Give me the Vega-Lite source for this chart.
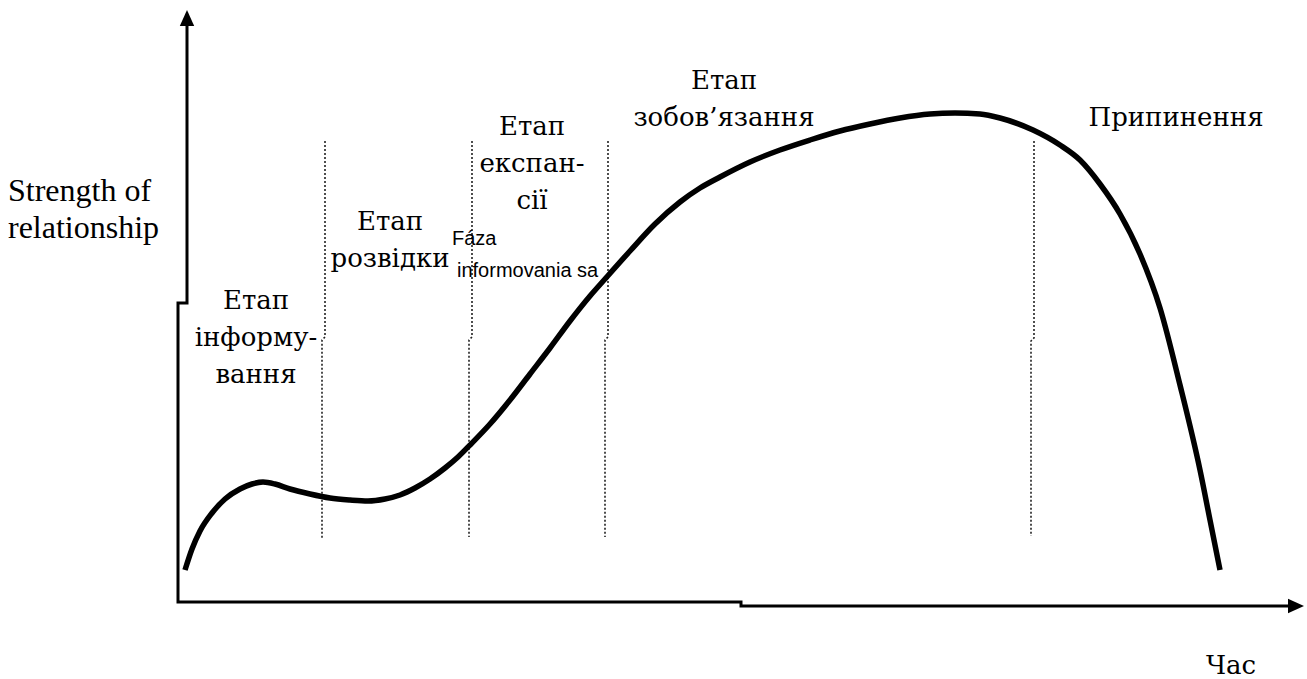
{
  "$schema": "https://vega.github.io/schema/vega-lite/v6.json",
  "width": 1307,
  "height": 679,
  "padding": 0,
  "autosize": {"type": "fit", "contains": "padding"},
  "background": "white",
  "config": {"view": {"stroke": null}},
  "datasets": {
    "axes": [
      {"seg": "a", "o": 1, "t": 187, "s": 26},
      {"seg": "a", "o": 2, "t": 187, "s": 303},
      {"seg": "a", "o": 3, "t": 178, "s": 303},
      {"seg": "a", "o": 4, "t": 178, "s": 602},
      {"seg": "a", "o": 5, "t": 741, "s": 602},
      {"seg": "a", "o": 6, "t": 741, "s": 606},
      {"seg": "a", "o": 7, "t": 1290, "s": 606}
    ],
    "arrows": [
      {"t": 187, "s": 18, "dir": "up"},
      {"t": 1296, "s": 606, "dir": "right"}
    ],
    "dividers": [
      {"seg": "d1", "o": 1, "t": 325, "s": 141},
      {"seg": "d1", "o": 2, "t": 325, "s": 337},
      {"seg": "d1", "o": 3, "t": 322, "s": 340},
      {"seg": "d1", "o": 4, "t": 322, "s": 538},
      {"seg": "d2", "o": 1, "t": 472, "s": 141},
      {"seg": "d2", "o": 2, "t": 472, "s": 337},
      {"seg": "d2", "o": 3, "t": 469, "s": 340},
      {"seg": "d2", "o": 4, "t": 469, "s": 537},
      {"seg": "d3", "o": 1, "t": 608, "s": 141},
      {"seg": "d3", "o": 2, "t": 608, "s": 337},
      {"seg": "d3", "o": 3, "t": 605, "s": 340},
      {"seg": "d3", "o": 4, "t": 605, "s": 537},
      {"seg": "d4", "o": 1, "t": 1034, "s": 141},
      {"seg": "d4", "o": 2, "t": 1034, "s": 338},
      {"seg": "d4", "o": 3, "t": 1031, "s": 341},
      {"seg": "d4", "o": 4, "t": 1031, "s": 536}
    ],
    "curve": [
      {"t": 185, "s": 570},
      {"t": 192, "s": 549},
      {"t": 200, "s": 531},
      {"t": 212, "s": 513},
      {"t": 225, "s": 499},
      {"t": 240, "s": 489},
      {"t": 252, "s": 484},
      {"t": 263, "s": 482},
      {"t": 275, "s": 484},
      {"t": 290, "s": 489},
      {"t": 310, "s": 494},
      {"t": 330, "s": 498},
      {"t": 350, "s": 500},
      {"t": 368, "s": 501},
      {"t": 385, "s": 499},
      {"t": 400, "s": 495},
      {"t": 415, "s": 488},
      {"t": 430, "s": 479},
      {"t": 445, "s": 468},
      {"t": 458, "s": 457},
      {"t": 470, "s": 445},
      {"t": 490, "s": 424},
      {"t": 510, "s": 400},
      {"t": 530, "s": 374},
      {"t": 550, "s": 348},
      {"t": 570, "s": 321},
      {"t": 590, "s": 296},
      {"t": 605, "s": 279},
      {"t": 630, "s": 251},
      {"t": 655, "s": 224},
      {"t": 680, "s": 202},
      {"t": 700, "s": 188},
      {"t": 720, "s": 177},
      {"t": 750, "s": 162},
      {"t": 780, "s": 150},
      {"t": 810, "s": 140},
      {"t": 840, "s": 131},
      {"t": 870, "s": 124},
      {"t": 900, "s": 118},
      {"t": 930, "s": 114},
      {"t": 955, "s": 113},
      {"t": 980, "s": 114},
      {"t": 1000, "s": 118},
      {"t": 1033, "s": 130},
      {"t": 1060, "s": 145},
      {"t": 1080, "s": 160},
      {"t": 1100, "s": 184},
      {"t": 1120, "s": 214},
      {"t": 1140, "s": 254},
      {"t": 1160, "s": 308},
      {"t": 1180, "s": 385},
      {"t": 1200, "s": 470},
      {"t": 1210, "s": 520},
      {"t": 1220, "s": 570}
    ],
    "serifLeft": [
      {"t": 8, "s": 201, "label": "Strength of\nrelationship"}
    ],
    "serif": [
      {"t": 256, "s": 309, "label": "Етап\nінформу-\nвання"},
      {"t": 390, "s": 230, "label": "Етап\nрозвідки"},
      {"t": 532, "s": 135, "label": "Етап\nекспан-\nсії"},
      {"t": 724, "s": 89, "label": "Етап\nзобов’язання"},
      {"t": 1176, "s": 126, "label": "Припинення"},
      {"t": 1231, "s": 674, "label": "Час"}
    ],
    "sans": [
      {"t": 452, "s": 245, "label": "Fáza"},
      {"t": 457, "s": 277, "label": "informovania sa"}
    ]
  },
  "encoding": {
    "x": {"field": "t", "type": "quantitative", "axis": null, "scale": {"domain": [0, 1307], "nice": false, "zero": false}},
    "y": {"field": "s", "type": "quantitative", "axis": null, "scale": {"domain": [0, 679], "nice": false, "zero": false, "reverse": true}}
  },
  "layer": [
    {
      "data": {"name": "dividers"},
      "mark": {"type": "line", "color": "#222", "strokeWidth": 1.6, "strokeDash": [2, 2]},
      "encoding": {
        "detail": {"field": "seg", "type": "nominal"},
        "order": {"field": "o", "type": "quantitative"}
      }
    },
    {
      "data": {"name": "axes"},
      "mark": {"type": "line", "color": "black", "strokeWidth": 3, "strokeJoin": "miter", "strokeCap": "square"},
      "encoding": {
        "detail": {"field": "seg", "type": "nominal"},
        "order": {"field": "o", "type": "quantitative"}
      }
    },
    {
      "data": {"name": "arrows"},
      "mark": {"type": "point", "filled": true, "color": "black", "opacity": 1, "size": 256},
      "encoding": {
        "shape": {
          "field": "dir", "type": "nominal", "legend": null,
          "scale": {"domain": ["up", "right"], "range": ["M0,-1L0.9,1L-0.9,1Z", "M1,0L-1,0.9L-1,-0.9Z"]}
        }
      }
    },
    {
      "data": {"name": "curve"},
      "mark": {"type": "line", "color": "black", "strokeWidth": 5.5, "interpolate": "monotone"},
      "encoding": {"order": {"field": "t", "type": "quantitative"}}
    },
    {
      "data": {"name": "serifLeft"},
      "mark": {"type": "text", "font": "'Liberation Serif'", "fontSize": 32, "lineHeight": 37, "lineBreak": "\n", "baseline": "alphabetic", "align": "left", "color": "black"},
      "encoding": {"text": {"field": "label"}}
    },
    {
      "data": {"name": "serif"},
      "mark": {"type": "text", "font": "'DejaVu Serif'", "fontSize": 26, "lineHeight": 37, "lineBreak": "\n", "baseline": "alphabetic", "align": "center", "color": "black"},
      "encoding": {"text": {"field": "label"}}
    },
    {
      "data": {"name": "sans"},
      "mark": {"type": "text", "font": "'Liberation Sans'", "fontSize": 20, "baseline": "alphabetic", "align": "left", "color": "black"},
      "encoding": {"text": {"field": "label"}}
    }
  ]
}
